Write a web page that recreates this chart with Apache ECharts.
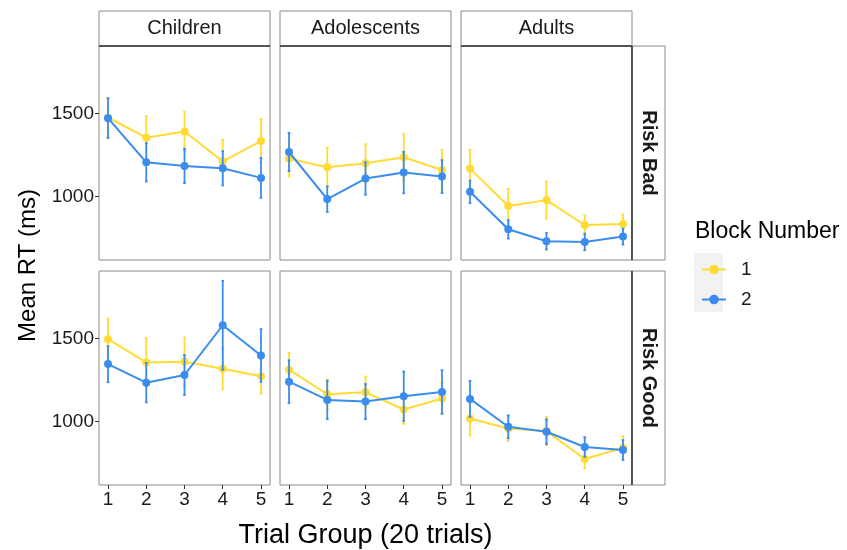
<!DOCTYPE html>
<html>
<head>
<meta charset="utf-8">
<script src="https://cdn.jsdelivr.net/npm/echarts@6/dist/echarts.min.js"></script>
<style>
  html, body { margin: 0; padding: 0; background: #ffffff; }
  #chart { width: 847px; height: 550px; }
</style>
</head>
<body>
<div id="chart"></div>
<script>
// ---- data -------------------------------------------------------------
const trialGroups = [1, 2, 3, 4, 5];
const ageGroups = ['Children', 'Adolescents', 'Adults'];
const riskConditions = ['Risk Bad', 'Risk Good'];
const blockNames = ['1', '2'];
const yTicks = [1000, 1500];

// Risk Bad: mean RT (ms) and error-bar half-width, block 1 / block 2
const badChildrenMean1 = [1476, 1354, 1392, 1212, 1334];
const badChildrenErr1  = [118, 130, 119, 129, 133];
const badChildrenMean2 = [1472, 1206, 1184, 1170, 1112];
const badChildrenErr2  = [120, 116, 104, 103, 120];

const badAdolescentsMean1 = [1228, 1176, 1200, 1236, 1160];
const badAdolescentsErr1  = [108, 118, 115, 140, 120];
const badAdolescentsMean2 = [1268, 984, 1108, 1144, 1120];
const badAdolescentsErr2  = [115, 77, 98, 125, 99];

const badAdultsMean1 = [1168, 942, 978, 828, 834];
const badAdultsErr1  = [114, 104, 112, 58, 58];
const badAdultsMean2 = [1028, 802, 730, 726, 758];
const badAdultsErr2  = [68, 56, 50, 50, 48];

// Risk Good
const goodChildrenMean1 = [1496, 1356, 1360, 1318, 1272];
const goodChildrenErr1  = [124, 147, 146, 125, 104];
const goodChildrenMean2 = [1346, 1234, 1280, 1580, 1398];
const goodChildrenErr2  = [109, 119, 120, 268, 159];

const goodAdolescentsMean1 = [1312, 1164, 1176, 1072, 1138];
const goodAdolescentsErr1  = [102, 89, 95, 86, 94];
const goodAdolescentsMean2 = [1240, 1130, 1120, 1152, 1178];
const goodAdolescentsErr2  = [129, 116, 106, 149, 131];

const goodAdultsMean1 = [1018, 958, 942, 774, 842];
const goodAdultsErr1  = [102, 75, 85, 55, 69];
const goodAdultsMean2 = [1136, 968, 938, 846, 828];
const goodAdultsErr2  = [109, 69, 75, 59, 60];

// ---- layout & style ---------------------------------------------------
const FONT = '"Liberation Sans", Arial, sans-serif';
const blockColors = ['#FFDB33', '#3A8DEE'];
const colLeft = [99, 280, 461];
const rowTop = [46, 271];
const panelW = 171;
const panelH = 214;
const stripTop = 11;
const stripRight = 665;

const panels = [
  [[badChildrenMean1, badChildrenErr1, badChildrenMean2, badChildrenErr2],
   [badAdolescentsMean1, badAdolescentsErr1, badAdolescentsMean2, badAdolescentsErr2],
   [badAdultsMean1, badAdultsErr1, badAdultsMean2, badAdultsErr2]],
  [[goodChildrenMean1, goodChildrenErr1, goodChildrenMean2, goodChildrenErr2],
   [goodAdolescentsMean1, goodAdolescentsErr1, goodAdolescentsMean2, goodAdolescentsErr2],
   [goodAdultsMean1, goodAdultsErr1, goodAdultsMean2, goodAdultsErr2]]
];

const grids = [], xAxes = [], yAxes = [], series = [];
const capHalf = 0.035;

function errorBarRender(color) {
  return function (params, api) {
    const x = api.value(0);
    const lo = api.coord([x, api.value(1)]);
    const hi = api.coord([x, api.value(2)]);
    const l = api.coord([x - capHalf, api.value(1)])[0];
    const r = api.coord([x + capHalf, api.value(1)])[0];
    const style = { stroke: color, lineWidth: 1.8 };
    return {
      type: 'group',
      children: [
        { type: 'line', shape: { x1: lo[0], y1: lo[1], x2: hi[0], y2: hi[1] }, style },
        { type: 'line', shape: { x1: l, y1: lo[1], x2: r, y2: lo[1] }, style },
        { type: 'line', shape: { x1: l, y1: hi[1], x2: r, y2: hi[1] }, style }
      ]
    };
  };
}

riskConditions.forEach((risk, row) => {
  ageGroups.forEach((age, col) => {
    const idx = grids.length;
    grids.push({
      left: colLeft[col], top: rowTop[row], width: panelW, height: panelH,
      show: true, borderColor: '#8a8a8a', borderWidth: 1, backgroundColor: '#ffffff'
    });
    xAxes.push({
      type: 'value', gridIndex: idx, min: 0.764, max: 5.236,
      axisLine: { show: false }, splitLine: { show: false },
      axisTick: { show: row === 1, customValues: trialGroups, length: 4,
                  lineStyle: { color: '#333333', width: 1 } },
      axisLabel: { show: row === 1, customValues: trialGroups, margin: 5,
                   fontSize: 19, color: '#1a1a1a', fontFamily: FONT,
                   formatter: v => String(v) }
    });
    yAxes.push({
      type: 'value', gridIndex: idx, min: 617, max: 1907,
      axisLine: { show: false }, splitLine: { show: false },
      axisTick: { show: col === 0, customValues: yTicks, length: 4,
                  lineStyle: { color: '#333333', width: 1 } },
      axisLabel: { show: col === 0, customValues: yTicks, margin: 5,
                   fontSize: 19, color: '#1a1a1a', fontFamily: FONT,
                   formatter: v => String(v) }
    });
    const d = panels[row][col];
    blockNames.forEach((b, k) => {
      const means = d[k * 2], errs = d[k * 2 + 1];
      series.push({
        type: 'custom', name: b + ' error', xAxisIndex: idx, yAxisIndex: idx,
        renderItem: errorBarRender(blockColors[k]),
        data: trialGroups.map((t, i) => [t, means[i] - errs[i], means[i] + errs[i]]),
        z: 2 + k * 2, silent: true, animation: false
      });
      series.push({
        type: 'line', name: b, xAxisIndex: idx, yAxisIndex: idx,
        data: trialGroups.map((t, i) => [t, means[i]]),
        symbol: 'circle', symbolSize: 8, showSymbol: true,
        lineStyle: { color: blockColors[k], width: 2 },
        itemStyle: { color: blockColors[k] },
        emphasis: { disabled: true },
        z: 3 + k * 2, animation: false
      });
    });
  });
});

// facet strips, axis titles and legend decorations
const graphics = [];
ageGroups.forEach((age, col) => {
  graphics.push({
    type: 'rect', z: 10,
    shape: { x: colLeft[col], y: stripTop, width: panelW, height: rowTop[0] - stripTop },
    style: { fill: '#ffffff', stroke: '#8a8a8a', lineWidth: 1 }
  });
  graphics.push({
    type: 'line', z: 11,
    shape: { x1: colLeft[col], y1: rowTop[0], x2: colLeft[col] + panelW, y2: rowTop[0] },
    style: { stroke: '#333333', lineWidth: 1.5 }
  });
  graphics.push({
    type: 'text', z: 12, x: colLeft[col] + panelW / 2, y: (stripTop + rowTop[0]) / 2,
    style: { text: age, font: '20px ' + FONT, fill: '#1a1a1a', align: 'center', verticalAlign: 'middle' }
  });
});
riskConditions.forEach((risk, row) => {
  const stripX = colLeft[2] + panelW;
  graphics.push({
    type: 'rect', z: 10,
    shape: { x: stripX, y: rowTop[row], width: stripRight - stripX, height: panelH },
    style: { fill: '#ffffff', stroke: '#8a8a8a', lineWidth: 1 }
  });
  graphics.push({
    type: 'line', z: 11,
    shape: { x1: stripX, y1: rowTop[row], x2: stripX, y2: rowTop[row] + panelH },
    style: { stroke: '#333333', lineWidth: 1.5 }
  });
  graphics.push({
    type: 'text', z: 12, x: (stripX + stripRight) / 2, y: rowTop[row] + panelH / 2,
    rotation: -Math.PI / 2,
    style: { text: risk, font: 'bold 20px ' + FONT, fill: '#1a1a1a', align: 'center', verticalAlign: 'middle' }
  });
});
graphics.push({
  type: 'text', x: (colLeft[0] + colLeft[2] + panelW) / 2, y: 536,
  style: { text: 'Trial Group (20 trials)', font: '27px ' + FONT, fill: '#000000', align: 'center', verticalAlign: 'middle' }
});
graphics.push({
  type: 'text', x: 28, y: rowTop[0] + (rowTop[1] + panelH - rowTop[0]) / 2, rotation: Math.PI / 2,
  style: { text: 'Mean RT (ms)', font: '24px ' + FONT, fill: '#000000', align: 'center', verticalAlign: 'middle' }
});
graphics.push({
  type: 'text', x: 695, y: 232,
  style: { text: 'Block Number', font: '23px ' + FONT, fill: '#000000', align: 'left', verticalAlign: 'middle' }
});
graphics.push({
  type: 'rect', z: 0, shape: { x: 694, y: 253, width: 29, height: 59 },
  style: { fill: '#F2F2F2' }
});

const chart = echarts.init(document.getElementById('chart'), null, { renderer: 'canvas' });
chart.setOption({
  animation: false,
  backgroundColor: '#ffffff',
  grid: grids,
  xAxis: xAxes,
  yAxis: yAxes,
  series: series,
  graphic: graphics,
  legend: {
    data: blockNames, orient: 'vertical', left: 696, top: 255,
    itemWidth: 24, itemHeight: 12, itemGap: 11, selectedMode: false,
    textStyle: { fontSize: 19, color: '#1a1a1a', fontFamily: FONT, padding: [0, 0, 0, 10] }
  }
});
</script>
</body>
</html>
